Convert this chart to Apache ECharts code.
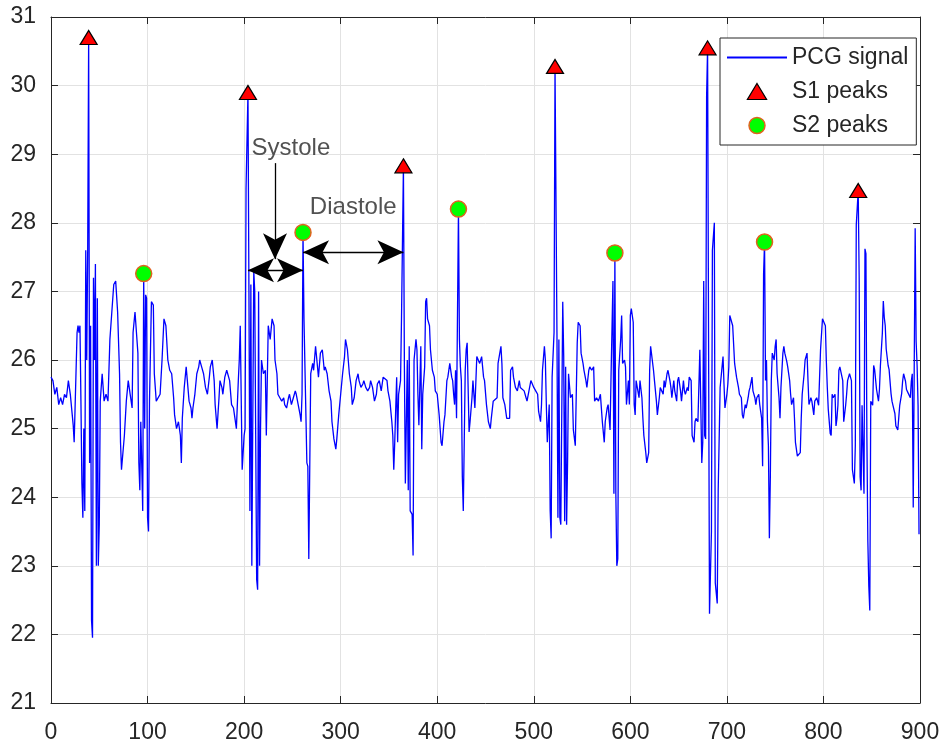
<!DOCTYPE html>
<html>
<head>
<meta charset="utf-8">
<script src="https://cdn.jsdelivr.net/npm/echarts@6/dist/echarts.min.js"></script>
<style>
html,body{margin:0;padding:0;background:#fff;}
#chart{width:944px;height:747px;}
</style>
</head>
<body>
<div id="chart"></div>
<script>
// PCG signal samples (sample index, amplitude)
var pcgX = [
0,2,4,6,8,10,12,14,16,18,20,22,23,24,26,27,28,29,30,31,32,33,34,35,36,37,38,39,40,41,42,43,44,45,46,47,48,49,50,51,53,55,57,59,61,63,65,67,69,71,72,73,75,76,78,80,82,84,85,87,88,90,91,92,93,95,96,97,98,99,100,101,102,104,106,107,109,
111,113,115,117,119,121,123,125,127,128,130,132,134,135,136,138,140,142,143,145,146,147,149,151,153,154,156,158,160,162,164,165,167,169,170,172,174,175,177,178,180,182,184,185,187,189,190,192,194,195,196,197,198,200,201,202,203,204,205,206,207,208,210,211,213,214,215,216,217,218,220,222,223,225,
227,229,231,232,234,235,237,239,241,242,244,246,247,249,251,253,254,256,258,259,260,261,262,263,265,266,267,268,269,271,272,274,276,277,279,281,283,284,286,288,290,291,293,295,296,298,300,302,304,305,307,309,311,312,314,316,318,319,321,323,324,326,328,330,331,333,335,337,338,340,
341,342,344,346,348,349,351,353,354,355,356,358,359,360,362,363,364,365,366,367,369,370,371,372,374,375,376,378,379,380,381,383,384,385,387,388,389,390,392,393,395,397,398,400,402,404,405,407,408,410,411,413,415,416,417,418,419,420,422,423,424,425,426,427,428,429,430,431,432,433,434,436,437,439,441,442,444,446,448,449,451,453,
455,456,458,460,462,463,465,466,467,468,470,472,474,475,476,478,479,481,483,485,486,488,490,492,493,495,497,498,500,502,504,505,507,508,509,511,512,513,514,516,517,518,519,521,522,524,525,526,527,528,530,531,532,533,534,535,536,538,540,541,543,544,545,546,548,549,551,552,554,555,557,558,560,562,563,565,567,
569,570,571,573,574,576,577,579,580,582,583,584,585,586,587,588,590,591,592,594,595,596,598,599,600,601,603,604,605,606,608,609,610,612,613,614,616,617,619,620,621,623,624,625,627,628,630,631,632,634,635,636,638,639,641,642,643,645,646,648,649,650,652,653,655,656,657,659,660,661,663,664,666,667,668,670,671,672,674,675,676,677,678,679,680,
682,684,685,687,688,690,691,693,694,696,697,698,700,701,702,703,705,706,708,709,710,712,713,715,716,717,719,720,722,723,724,726,727,729,730,731,733,734,736,737,738,739,740,741,742,743,744,745,746,747,749,750,751,752,754,755,756,758,759,760,762,763,765,766,767,769,770,771,773,774,776,777,778,780,781,783,784,785,787,788,790,791,793,795,
797,799,801,802,803,804,805,807,808,809,810,812,813,814,815,816,817,819,820,821,822,823,824,825,827,828,829,830,832,833,834,836,837,838,839,840,842,843,844,845,846,847,848,849,851,852,853,855,857,858,859,861,862,863,864,865,867,868,870,871,872,874,875,877,878,879,881,882,883,885,886,888,889,890,891,892,893,894,895,896,897,898,899
];
var pcgY = [
25.75,25.7,25.5,25.6,25.35,25.45,25.35,25.5,25.45,25.7,25.5,25.2,25.05,24.8,24.8,26.4,26.5,26.4,26.5,25.4,24.2,23.7,25.0,23.8,27.6,26.0,27.6,30.7,24.5,26.5,22.2,21.95,27.2,26.0,27.4,23.0,26.9,23.0,23.6,25.4,25.8,25.4,25.5,25.4,26.3,26.7,27.1,27.15,26.7,25.8,24.8,24.4,24.4,24.9,25.4,25.7,25.5,25.3,26.4,26.7,26.5,26.1,24.5,24.1,25.1,23.8,27.26,25.0,26.95,26.9,23.7,23.5,25.4,26.85,26.8,25.8,25.4,
25.4,25.5,26.0,26.6,26.5,26.0,25.85,25.8,25.45,25.2,25.0,25.1,24.9,24.5,25.15,25.6,25.9,25.9,25.4,25.3,25.15,25.3,25.5,25.8,25.9,26.0,25.9,25.8,25.6,25.5,25.75,25.9,26.0,25.7,25.35,25.0,25.45,25.7,25.6,25.5,25.75,25.85,25.85,25.7,25.35,25.3,25.2,25.0,25.7,26.0,26.5,26.5,24.4,24.9,25.0,28.5,28.5,29.9,27.0,23.8,27.1,23.0,27.3,27.0,22.8,22.65,27.0,23.0,25.0,26.0,25.8,25.85,24.9,26.5,
26.3,26.6,26.5,26.0,25.8,25.5,25.45,25.4,25.45,25.35,25.3,25.45,25.5,25.35,25.45,25.55,25.5,25.35,25.2,25.1,25.5,27.86,26.6,26.6,24.5,24.45,23.1,23.1,25.8,25.95,25.85,26.2,26.2,25.75,26.1,26.15,25.85,25.9,25.8,25.55,25.4,25.1,24.85,24.7,24.85,25.2,25.5,25.8,26.05,26.3,26.15,25.8,25.6,25.35,25.45,25.7,25.8,25.7,25.6,25.65,25.7,25.6,25.55,25.6,25.7,25.6,25.4,25.5,25.65,25.7,
25.7,25.55,25.75,25.75,25.7,25.55,25.4,25.1,24.9,24.4,24.8,25.75,24.8,25.5,25.7,26.6,26.6,28.83,25.9,24.2,26.0,24.1,26.2,23.8,23.75,23.15,26.0,26.3,26.15,25.5,25.05,26.2,24.7,25.5,25.9,26.85,26.9,26.6,26.5,26.15,25.85,25.75,25.55,25.5,25.2,24.8,24.75,25.1,25.2,25.7,25.75,25.95,25.75,25.7,25.5,25.35,25.85,25.15,28.2,26.3,25.9,25.7,24.3,23.8,23.8,25.85,26.15,26.25,26.25,24.95,25.1,25.45,25.7,25.3,26.05,26.05,25.95,26.05,25.75,25.7,25.35,25.1,
25.0,25.15,25.4,25.4,25.45,25.95,25.95,26.2,25.95,25.45,25.35,25.15,25.15,25.15,25.85,25.9,25.75,25.6,25.55,25.7,25.6,25.6,25.55,25.45,25.4,25.55,25.7,25.7,25.6,25.55,25.5,25.25,25.1,25.35,25.85,26.2,26.0,25.35,24.8,25.35,23.8,23.4,25.75,26.4,30.28,26.4,23.7,26.3,23.7,23.6,26.85,26.05,23.65,25.9,23.6,24.5,25.8,25.45,25.5,24.98,24.75,24.75,26.25,26.55,26.5,26.1,25.95,25.85,25.7,25.6,25.85,25.9,25.85,25.9,25.4,25.45,25.4,
25.5,25.3,25.1,24.8,25.1,25.3,25.35,24.98,25.75,27.15,24.05,27.56,24.05,23.0,23.1,25.85,26.3,26.65,25.95,26.0,25.9,25.35,25.7,25.35,26.65,26.75,26.55,25.35,25.2,25.7,25.7,25.45,25.7,25.45,25.15,24.9,24.65,24.5,24.65,25.85,26.2,26.2,25.85,25.7,25.4,25.2,25.45,25.6,25.6,25.5,25.7,25.6,25.8,25.85,25.7,25.6,25.45,25.7,25.55,25.4,25.7,25.75,25.55,25.4,25.7,25.55,25.5,25.6,25.55,25.75,25.7,24.9,24.8,25.1,25.15,25.1,25.1,26.15,24.5,24.8,27.15,24.9,24.85,29.85,30.55,
22.3,23.5,27.6,28.0,22.75,22.45,24.1,25.6,25.6,26.05,25.65,25.3,25.5,25.65,25.9,26.65,26.65,26.5,25.95,25.85,25.75,25.6,25.5,25.45,25.2,25.15,25.35,25.3,25.45,25.55,25.6,25.75,25.55,25.45,25.35,25.45,25.5,25.35,25.15,24.45,27.25,27.72,25.7,26.0,25.1,24.75,23.4,24.3,25.7,26.1,26.0,26.2,26.3,25.8,25.45,25.15,25.6,26.1,26.2,26.1,25.98,25.9,25.7,25.5,25.35,25.45,25.15,24.8,24.6,24.6,24.65,25.15,25.5,25.8,26.0,26.1,25.7,25.35,25.45,25.4,25.2,25.4,25.45,25.34,
26.15,26.6,26.6,26.5,25.98,25.6,25.28,24.93,24.9,25.5,25.45,25.5,25.04,25.15,25.34,25.85,25.9,25.92,25.7,25.1,25.1,25.34,25.5,25.7,25.8,25.75,25.7,24.4,24.2,24.75,27.97,28.47,27.2,24.3,24.1,25.34,24.05,27.62,27.55,24.87,23.35,22.7,22.35,25.4,25.34,25.92,25.86,25.57,25.4,25.57,25.92,26.39,26.86,26.62,26.5,26.16,25.92,25.86,25.51,25.4,25.34,25.22,25.04,24.98,25.16,25.34,25.51,25.69,25.8,25.69,25.57,25.51,25.51,25.45,25.69,25.8,23.85,25.86,27.92,26.27,25.92,25.34,23.46
];
// Detected peaks
var s1X = [39, 204, 365, 522, 680, 836];
var s1Y = [30.7, 29.9, 28.83, 30.28, 30.55, 28.47];
var s2X = [96, 261, 422, 584, 739];
var s2Y = [27.26, 27.86, 28.2, 27.56, 27.72];
// Axis ticks
var xTicks = {min: 0, max: 900, step: 100};
var yTicks = {min: 21, max: 31, step: 1};
// Annotations
var annotText = ['Systole', 'Diastole'];
var annotTextX = [248.5, 313];
var annotTextY = [29.08, 28.22];
var systoleSpan = [204, 261, 27.31];
var diastoleSpan = [261, 365, 27.57];
var systolePointer = [232, 28.87, 27.47];

var zip = function (xs, ys) { return xs.map(function (x, i) { return [x, ys[i]]; }); };

var FONT = '"Liberation Sans", Arial, Helvetica, sans-serif';
var AX = '#262626';

var chart = echarts.init(document.getElementById('chart'), null, {renderer: 'canvas'});

var axisCommon = {
  type: 'value',
  axisLine: {show: true, onZero: false, lineStyle: {color: AX, width: 1}},
  axisTick: {show: true, inside: true, length: 7, lineStyle: {color: AX, width: 1}}
};

var option = {
  animation: false,
  backgroundColor: '#fff',
  textStyle: {fontFamily: FONT},
  grid: {left: 51, right: 24, top: 17, bottom: 44, containLabel: false},
  xAxis: [
    Object.assign({}, axisCommon, {
      position: 'bottom', min: xTicks.min, max: xTicks.max, interval: xTicks.step,
      axisLabel: {fontSize: 23, color: AX, margin: 18, fontFamily: FONT},
      splitLine: {show: true, lineStyle: {color: '#e2e2e2', width: 1}}
    }),
    Object.assign({}, axisCommon, {
      position: 'top', min: xTicks.min, max: xTicks.max, interval: xTicks.step,
      axisLabel: {show: false}, splitLine: {show: false}
    })
  ],
  yAxis: [
    Object.assign({}, axisCommon, {
      position: 'left', min: yTicks.min, max: yTicks.max, interval: yTicks.step,
      axisLabel: {fontSize: 23, color: AX, margin: 15, fontFamily: FONT},
      splitLine: {show: true, lineStyle: {color: '#e2e2e2', width: 1}}
    }),
    Object.assign({}, axisCommon, {
      position: 'right', min: yTicks.min, max: yTicks.max, interval: yTicks.step,
      axisLabel: {show: false}, splitLine: {show: false}
    })
  ],
  legend: {
    data: [
      {name: 'PCG signal', icon: 'path://M0,0 H60 V2 H0 Z', itemStyle: {color: '#0000ff', borderWidth: 0}},
      {name: 'S1 peaks', icon: 'path://M9,0 L18,15 L0,15 Z', itemStyle: {color: '#ff0000', borderColor: '#000', borderWidth: 1.2}},
      {name: 'S2 peaks', icon: 'circle', itemStyle: {color: '#00ff00', borderColor: '#e2611f', borderWidth: 1.5}}
    ],
    orient: 'vertical',
    left: 720, top: 38,
    itemWidth: 60, itemHeight: 16, itemGap: 11,
    symbolKeepAspect: true,
    padding: [8, 8, 8, 7],
    backgroundColor: '#fff',
    borderColor: AX, borderWidth: 1, borderRadius: 0,
    textStyle: {fontSize: 23, color: AX, fontFamily: FONT},
    selectedMode: false
  },
  series: [
    {
      name: 'PCG signal', type: 'line', xAxisIndex: 0, yAxisIndex: 0,
      data: zip(pcgX, pcgY), showSymbol: false, symbol: 'none',
      lineStyle: {color: '#0000ff', width: 1.3}, itemStyle: {color: '#0000ff'},
      z: 2
    },
    {
      name: 'S1 peaks', type: 'scatter', data: zip(s1X, s1Y),
      symbol: 'triangle', symbolSize: [17, 14],
      itemStyle: {color: '#ff0000', borderColor: '#000', borderWidth: 1.2, opacity: 1},
      z: 4
    },
    {
      name: 'S2 peaks', type: 'scatter', data: zip(s2X, s2Y),
      symbol: 'circle', symbolSize: 16,
      itemStyle: {color: '#00ff00', borderColor: '#e2611f', borderWidth: 1.5, opacity: 1},
      z: 4
    },
    {
      name: 'annotations', type: 'scatter',
      data: annotText.map(function (t, i) { return {value: [annotTextX[i], annotTextY[i]], name: t}; }),
      symbolSize: 1, itemStyle: {color: 'rgba(0,0,0,0)'},
      label: {show: true, position: 'inside', formatter: '{b}', fontSize: 24, color: AX, fontFamily: FONT},
      silent: true, z: 5,
      markLine: {
        silent: true, animation: false,
        symbol: ['arrow', 'arrow'], symbolSize: [18, 26],
        label: {show: false},
        lineStyle: {color: '#000', width: 1.3, type: 'solid'},
        data: [
          [{coord: [systoleSpan[0], systoleSpan[2]]}, {coord: [systoleSpan[1], systoleSpan[2]]}],
          [{coord: [diastoleSpan[0], diastoleSpan[2]]}, {coord: [diastoleSpan[1], diastoleSpan[2]]}],
          [{coord: [systolePointer[0], systolePointer[1]], symbol: 'none'}, {coord: [systolePointer[0], systolePointer[2]], symbol: 'arrow'}]
        ]
      }
    }
  ]
};
chart.setOption(option);
</script>
</body>
</html>
